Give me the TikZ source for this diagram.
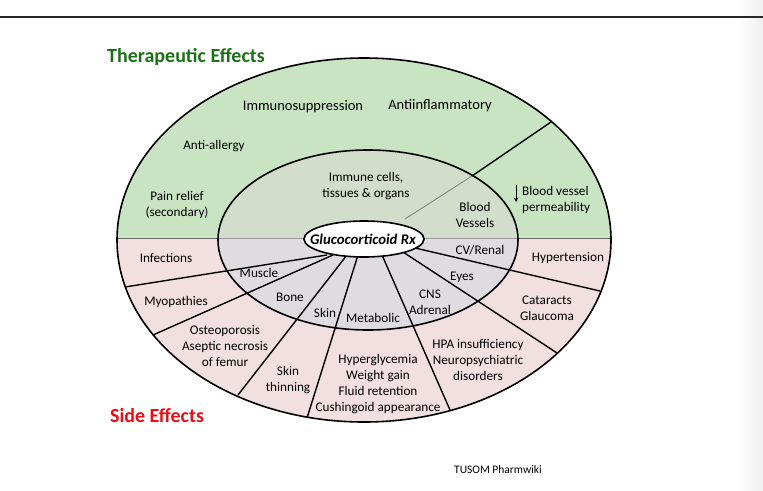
\documentclass[tikz,border=0pt]{standalone}
\usepackage{fontspec}
\setmainfont{Carlito}
\usepackage{tikz}
\usetikzlibrary{arrows}

\definecolor{outgreen}{RGB}{201,228,194}
\definecolor{ingreen}{RGB}{211,221,203}
\definecolor{outpink}{RGB}{242,224,224}
\definecolor{inpink}{RGB}{223,220,225}
\definecolor{headgreen}{RGB}{28,112,24}
\definecolor{headred}{RGB}{232,14,22}

\begin{document}
\begin{tikzpicture}[x=1pt,y=-1pt,
  lab/.style={font=\fontsize{13.2}{15.7}\selectfont,align=center,inner sep=0pt},
  biglab/.style={font=\fontsize{14.5}{17}\selectfont,inner sep=0pt},
  head/.style={font=\fontsize{20}{24}\selectfont\bfseries,inner sep=0pt},
  spoke/.style={line width=1.4pt},
  ring/.style={line width=1.6pt}]
\useasboundingbox (0,0) rectangle (763,490);
\shade[left color=white,right color=black!6] (735,0) rectangle (763,490);
\coordinate (l1) at (0,17);
\coordinate (l2) at (763,17);
\draw[line width=2pt,black!85] (l1) -- (l2);

\begin{scope}
\clip (0,0) rectangle (763,238);
\fill[outgreen] (364,240) ellipse [x radius=247pt,y radius=182pt];
\fill[ingreen] (368,240) ellipse [x radius=150pt,y radius=90pt];
\end{scope}
\begin{scope}
\clip (0,238) rectangle (763,490);
\fill[outpink] (364,240) ellipse [x radius=247pt,y radius=182pt];
\fill[inpink] (368,240) ellipse [x radius=150pt,y radius=90pt];
\end{scope}

\coordinate (h1) at (117,238);
\coordinate (h2) at (218,238);
\coordinate (h3) at (518,238);
\coordinate (h4) at (611,238);
\draw[black!60,line width=1pt] (h1) -- (h2);
\draw[black!60,line width=1pt] (h3) -- (h4);
\draw[black!40,line width=1pt] (h2) -- (h3);

\coordinate (t1) at (405,219);
\coordinate (t2) at (472,176);
\coordinate (t3) at (551,122);
\draw[black!45,line width=1pt] (t1) -- (t2);
\draw[spoke] (t2) -- (t3);

\coordinate (i1) at (327,255);
\coordinate (i2) at (333,255);
\coordinate (i3) at (347,255);
\coordinate (i4) at (358,255);
\coordinate (i5) at (382,255);
\coordinate (i6) at (403,252);
\coordinate (i7) at (415,248);
\coordinate (o1) at (125,287);
\coordinate (o2) at (153,335);
\coordinate (o3) at (238,395);
\coordinate (o4) at (307,418);
\coordinate (o5) at (450,410);
\coordinate (o6) at (557,353);
\coordinate (o7) at (600,291);
\foreach \from/\to in {i1/o1,i2/o2,i3/o3,i4/o4,i5/o5,i6/o6,i7/o7}
  \draw[spoke] (\from) -- (\to);

\draw[ring] (364,240) ellipse [x radius=247pt,y radius=182pt];
\draw[ring] (368,240) ellipse [x radius=150pt,y radius=90pt];
\draw[ring,fill=white] (364,239) ellipse [x radius=60pt,y radius=18pt];
\node[font=\fontsize{14.8}{17}\selectfont\bfseries\itshape,inner sep=0pt] (rx) at (363,239) {Glucocorticoid Rx};

\node[head,text=headgreen] (ther) at (186,57) {Therapeutic Effects};
\node[head,text=headred] (side) at (157,416) {Side Effects};

\node[biglab] (immsup) at (303,107) {Immunosuppression};
\node[biglab] (antiinf) at (440,106) {Antiinflammatory};
\node[lab] (allergy) at (214,146) {Anti-allergy};
\node[lab] (pain) at (177,205) {Pain relief\\(secondary)};
\node[lab] (immune) at (366,186) {Immune cells,\\tissues \& organs};
\node[lab,align=left,anchor=west] (perm) at (522,200) {Blood vessel\\permeability};
\coordinate (dn1) at (516,185);
\coordinate (dn2) at (516,202);
\draw[-stealth,line width=1pt] (dn1) -- (dn2);
\node[lab] (vessels) at (475,215) {Blood\\Vessels};

\node[lab] (cvrenal) at (480,250) {CV/Renal};
\node[lab] (hyper) at (568,258) {Hypertension};
\node[lab] (eyes) at (462,277) {Eyes};
\node[lab] (cns) at (430,302) {CNS\\Adrenal};
\node[lab] (catar) at (547,308) {Cataracts\\Glaucoma};
\node[lab] (hpa) at (478,360) {HPA insufficiency\\Neuropsychiatric\\disorders};
\node[lab] (metab) at (373,318) {Metabolic};
\node[lab] (skin) at (325,313) {Skin};
\node[lab] (bone) at (290,297) {Bone};
\node[lab] (muscle) at (259,273) {Muscle};
\node[lab] (infect) at (166,258) {Infections};
\node[lab] (myo) at (176,302) {Myopathies};
\node[lab] (osteo) at (225,346) {Osteoporosis\\Aseptic necrosis\\of femur};
\node[lab] (thin) at (288,380) {Skin\\thinning};
\node[lab] (glyc) at (378,384) {Hyperglycemia\\Weight gain\\Fluid retention\\Cushingoid appearance};

\node[font=\fontsize{11.5}{14}\selectfont,inner sep=0pt] (wiki) at (498,470) {TUSOM Pharmwiki};
\end{tikzpicture}
\end{document}
